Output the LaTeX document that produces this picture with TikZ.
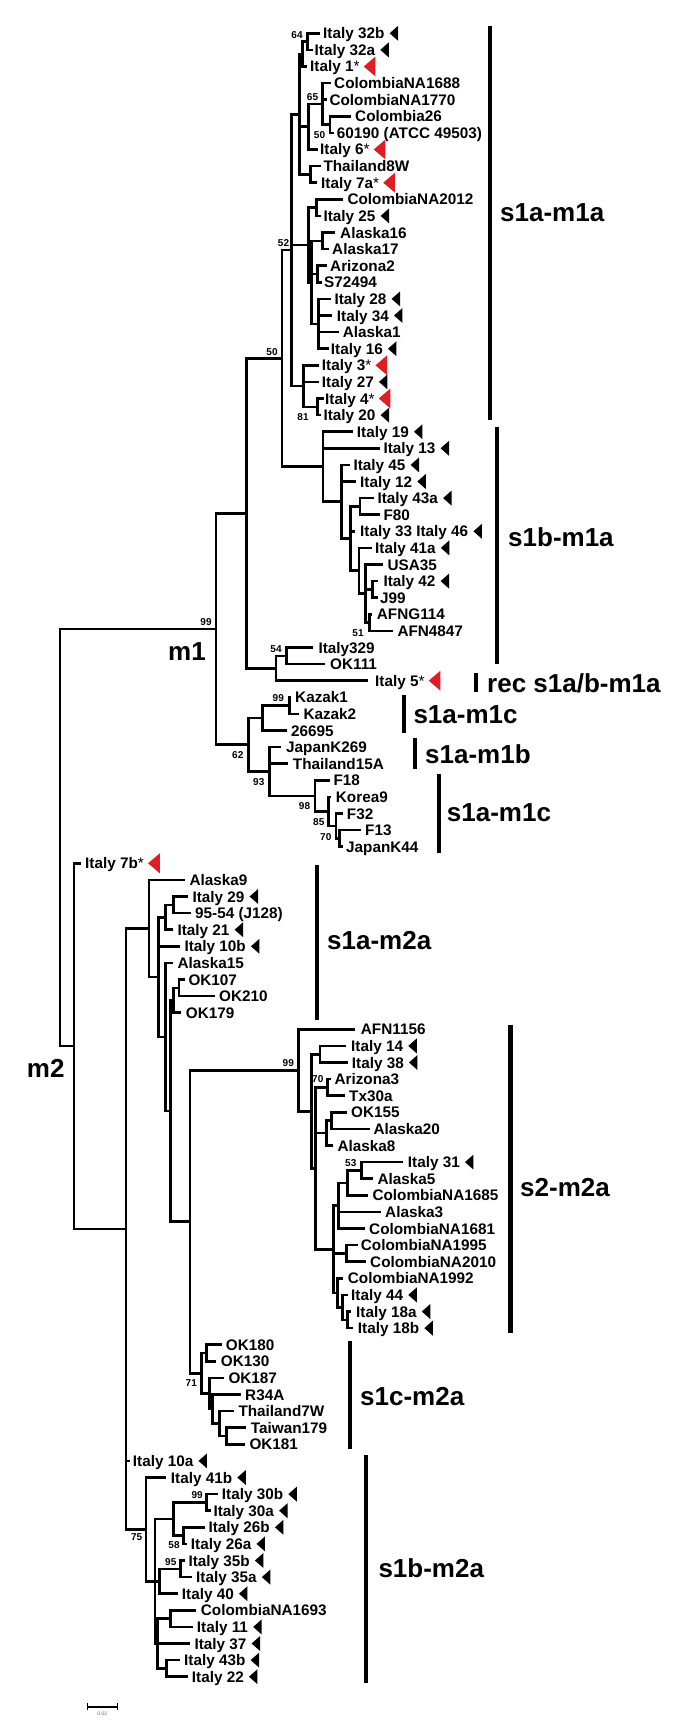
\documentclass[tikz,border=0pt]{standalone}
\usepackage{fontspec}
\setmainfont{Liberation Sans}
\usetikzlibrary{calc}
\definecolor{tred}{RGB}{222,30,36}
\tikzset{
  br/.style={line width=2.6pt, line cap=rect, line join=miter},
  lab/.style={anchor=base west, inner sep=0pt, font=\bfseries\fontsize{15.3}{16}\selectfont},
  bs/.style={inner sep=0pt, font=\bfseries\fontsize{10}{10}\selectfont},
  cl/.style={anchor=base west, inner sep=0pt, font=\bfseries\fontsize{26}{26}\selectfont},
  cbar/.style={line width=4.3pt},
}
\newcommand\tleaf[5]{%
  \coordinate (#1) at (#2,{33.3+16.6*#3});
  \node[lab] (#1t) at (#4,{38.8+16.6*#3}) {#5};}
\newcommand\tblk[1]{\fill ($(#1t.base east)+(5,-5.5)$) -- ++(8.5,-7.5) -- ++(0,15) -- cycle;}
\newcommand\tredtri[1]{\fill[tred] ($(#1t.base east)+(4,-5.5)$) -- ++(11.7,-10) -- ++(0,20) -- cycle;}
\newcommand\tnode[4]{\path let \p1=(#3), \p2=(#4) in coordinate (#1) at (#2pt,{0.5*(\y1+\y2)});}
\newcommand\tedges[2]{\foreach \ch in {#2}{\draw[br] (#1) |- (\ch);}}
\newcommand\tast{{\mdseries *}}
\begin{document}
\begin{tikzpicture}[x=1pt,y=-1pt]
\useasboundingbox (0,0) rectangle (679,1731);
\fill[white] (0,0) rectangle (679,1731);
% ---------------- leaves ----------------
\tleaf{i32b}{318.7}{0}{323}{Italy 32b}\tblk{i32b}
\tleaf{i32a}{311.5}{1}{314.5}{Italy 32a}\tblk{i32a}
\tleaf{i1}{305.5}{2}{310}{Italy 1\tast}\tredtri{i1}
\tleaf{na1688}{329.3}{3}{334}{ColombiaNA1688}
\tleaf{na1770}{326}{4}{329.3}{ColombiaNA1770}
\tleaf{col26}{350}{5}{355}{Colombia26}
\tleaf{c60190}{333}{6}{336.7}{60190 (ATCC 49503)}
\tleaf{i6}{316.7}{7}{320}{Italy 6\tast}\tredtri{i6}
\tleaf{th8w}{320}{8}{323.3}{Thailand8W}
\tleaf{i7a}{316}{9}{321}{Italy 7a\tast}\tredtri{i7a}
\tleaf{na2012}{341.7}{10}{347.3}{ColombiaNA2012}
\tleaf{i25}{320}{11}{323.3}{Italy 25}\tblk{i25}
\tleaf{ak16}{334}{12}{340}{Alaska16}
\tleaf{ak17}{327.5}{13}{332}{Alaska17}
\tleaf{az2}{326}{14}{330}{Arizona2}
\tleaf{s72494}{320.5}{15}{324}{S72494}
\tleaf{i28}{329.3}{16}{334.3}{Italy 28}\tblk{i28}
\tleaf{i34}{331}{17}{336.7}{Italy 34}\tblk{i34}
\tleaf{ak1}{337.7}{18}{342.7}{Alaska1}
\tleaf{i16}{327.3}{19}{330.7}{Italy 16}\tblk{i16}
\tleaf{i3}{317.3}{20}{321.7}{Italy 3\tast}\tredtri{i3}
\tleaf{i27}{317.3}{21}{321.7}{Italy 27}\tblk{i27}
\tleaf{i4}{322.7}{22}{325}{Italy 4\tast}\tredtri{i4}
\tleaf{i20}{320}{23}{323.3}{Italy 20}\tblk{i20}
\tleaf{i19}{351.7}{24}{356.7}{Italy 19}\tblk{i19}
\tleaf{i13}{378.3}{25}{383.3}{Italy 13}\tblk{i13}
\tleaf{i45}{348.3}{26}{353.3}{Italy 45}\tblk{i45}
\tleaf{i12}{355}{27}{360}{Italy 12}\tblk{i12}
\tleaf{i43a}{372.7}{28}{377.3}{Italy 43a}\tblk{i43a}
\tleaf{f80}{378.3}{29}{383.3}{F80}
\tleaf{i3346}{354}{30}{360}{Italy 33 Italy 46}\tblk{i3346}
\tleaf{i41a}{371}{31}{375}{Italy 41a}\tblk{i41a}
\tleaf{usa35}{381.7}{32}{387.3}{USA35}
\tleaf{i42}{376.7}{33}{383.3}{Italy 42}\tblk{i42}
\tleaf{j99}{376.7}{34}{380}{J99}
\tleaf{afng114}{371}{35}{376.7}{AFNG114}
\tleaf{afn4847}{391.7}{36}{397.3}{AFN4847}
\tleaf{it329}{311.7}{37}{318.3}{Italy329}
\tleaf{ok111}{323.3}{38}{330}{OK111}
\tleaf{i5}{366.7}{39}{375}{Italy 5\tast}\tredtri{i5}
\tleaf{kazak1}{290}{40}{295}{Kazak1}
\tleaf{kazak2}{297.3}{41}{303.3}{Kazak2}
\tleaf{k26695}{286}{42}{291}{26695}
\tleaf{jk269}{280}{43}{286}{JapanK269}
\tleaf{th15a}{286.7}{44}{292.7}{Thailand15A}
\tleaf{f18}{328.3}{45}{333.3}{F18}
\tleaf{korea9}{330}{46}{335.7}{Korea9}
\tleaf{f32}{341.7}{47}{346.7}{F32}
\tleaf{f13}{360}{48}{365}{F13}
\tleaf{jk44}{341.7}{49}{346}{JapanK44}
\tleaf{i7b}{80}{50}{85}{Italy 7b\tast}\tredtri{i7b}
\tleaf{ak9}{184}{51}{189.3}{Alaska9}
\tleaf{i29}{186.7}{52}{192.3}{Italy 29}\tblk{i29}
\tleaf{j128}{189.3}{53}{195}{95-54 (J128)}
\tleaf{i21}{171.7}{54}{177.3}{Italy 21}\tblk{i21}
\tleaf{i10b}{178.3}{55}{184.3}{Italy 10b}\tblk{i10b}
\tleaf{ak15}{171.7}{56}{177.3}{Alaska15}
\tleaf{ok107}{183.3}{57}{188.3}{OK107}
\tleaf{ok210}{213.3}{58}{219}{OK210}
\tleaf{ok179}{180}{59}{185.7}{OK179}
\tleaf{afn1156}{353.3}{60}{360.7}{AFN1156}
\tleaf{i14}{345}{61}{351}{Italy 14}\tblk{i14}
\tleaf{i38}{346.7}{62}{351.7}{Italy 38}\tblk{i38}
\tleaf{az3}{329.3}{63}{334.3}{Arizona3}
\tleaf{tx30a}{343.3}{64}{349}{Tx30a}
\tleaf{ok155}{346}{65}{351}{OK155}
\tleaf{ak20}{368.3}{66}{373.3}{Alaska20}
\tleaf{ak8}{331.7}{67}{337.3}{Alaska8}
\tleaf{i31}{401.7}{68}{407.7}{Italy 31}\tblk{i31}
\tleaf{ak5}{371.7}{69}{377.3}{Alaska5}
\tleaf{na1685}{366.7}{70}{372.3}{ColombiaNA1685}
\tleaf{ak3}{380}{71}{385}{Alaska3}
\tleaf{na1681}{363.3}{72}{369}{ColombiaNA1681}
\tleaf{na1995}{357}{73}{360.7}{ColombiaNA1995}
\tleaf{na2010}{365}{74}{370}{ColombiaNA2010}
\tleaf{na1992}{341.7}{75}{347.7}{ColombiaNA1992}
\tleaf{i44}{346.7}{76}{351}{Italy 44}\tblk{i44}
\tleaf{i18a}{350}{77}{356}{Italy 18a}\tblk{i18a}
\tleaf{i18b}{351.7}{78}{357.7}{Italy 18b}\tblk{i18b}
\tleaf{ok180}{220.7}{79}{225.7}{OK180}
\tleaf{ok130}{215}{80}{220.7}{OK130}
\tleaf{ok187}{222.7}{81}{228.3}{OK187}
\tleaf{r34a}{239.3}{82}{245}{R34A}
\tleaf{th7w}{232.7}{83}{238.3}{Thailand7W}
\tleaf{tw179}{245}{84}{250.7}{Taiwan179}
\tleaf{ok181}{243.3}{85}{249.3}{OK181}
\tleaf{i10a}{128.3}{86}{132.7}{Italy 10a}\tblk{i10a}
\tleaf{i41b}{165}{87}{170.7}{Italy 41b}\tblk{i41b}
\tleaf{i30b}{216.7}{88}{221.7}{Italy 30b}\tblk{i30b}
\tleaf{i30a}{209.3}{89}{213.3}{Italy 30a}\tblk{i30a}
\tleaf{i26b}{203.3}{90}{208.3}{Italy 26b}\tblk{i26b}
\tleaf{i26a}{186}{91}{190.7}{Italy 26a}\tblk{i26a}
\tleaf{i35b}{183.3}{92}{188.3}{Italy 35b}\tblk{i35b}
\tleaf{i35a}{190.7}{93}{196}{Italy 35a}\tblk{i35a}
\tleaf{i40}{176.7}{94}{181.7}{Italy 40}\tblk{i40}
\tleaf{na1693}{195}{95}{200.7}{ColombiaNA1693}
\tleaf{i11}{191.7}{96}{196.7}{Italy 11}\tblk{i11}
\tleaf{i37}{188.3}{97}{194.3}{Italy 37}\tblk{i37}
\tleaf{i43b}{178.3}{98}{184}{Italy 43b}\tblk{i43b}
\tleaf{i22}{186.7}{99}{191.7}{Italy 22}\tblk{i22}
% ---------------- internal nodes (bottom-up) ----------------
\tnode{n64}{307.7}{i32b}{i32a}
\tnode{nB}{302.3}{n64}{i1}
\tnode{nD}{330}{col26}{c60190}
\tnode{nE}{322.7}{na1688}{nD}
\tnode{nF}{308.3}{nE}{i6}
\tnode{nC}{310.7}{th8w}{i7a}
\tnode{nG}{299.3}{nB}{nC}
\tnode{nL}{316.7}{na2012}{i25}
\tnode{nI}{322.3}{ak16}{ak17}
\tnode{nJ}{317.3}{az2}{s72494}
\tnode{nK}{318.3}{i28}{i16}
\tnode{nN}{311.7}{nI}{nK}
\tnode{nM}{308.3}{nL}{nN}
\tnode{nO}{317.3}{i4}{i20}
\tnode{nP}{303.3}{i3}{nO}
\tnode{nH}{291.7}{nG}{nP}
\tnode{nY}{360}{i43a}{f80}
\tnode{nAA}{372.7}{i42}{j99}
\tnode{nBB}{369.3}{afng114}{afn4847}
\tnode{nCC}{365.7}{usa35}{nBB}
\tnode{nZ}{359}{i41a}{nCC}
\tnode{nX}{350.5}{nY}{nZ}
\tnode{nW}{341.7}{i45}{nX}
\tnode{nV}{323}{i19}{nW}
\tnode{nQ}{282}{nH}{nV}
\tnode{nR}{286.7}{it329}{ok111}
\tnode{nS}{276}{nR}{i5}
\tnode{nU}{246.7}{nQ}{nS}
\tnode{nKZ}{289.3}{kazak1}{kazak2}
\tnode{nK2}{262.7}{nKZ}{k26695}
\tnode{n70}{339.3}{f13}{jk44}
\tnode{nF32}{336}{f32}{n70}
\tnode{n85}{328.3}{korea9}{nF32}
\tnode{n98}{315}{f18}{n85}
\tnode{n93}{269.3}{jk269}{n98}
\tnode{nLow}{248.3}{nK2}{n93}
\tnode{nM1}{216}{nU}{nLow}
\tnode{n29}{173.3}{i29}{j128}
\tnode{n21}{165.7}{n29}{i21}
\tnode{n107}{179}{ok107}{ok210}
\tnode{n179}{173.3}{n107}{ok179}
\tnode{n14}{320}{i14}{i38}
\tnode{nAZ}{327.3}{az3}{tx30a}
\tnode{nOK}{331.7}{ok155}{ak20}
\tnode{nAK8}{326.7}{nOK}{ak8}
\tnode{n31}{361.7}{i31}{ak5}
\tnode{n53}{347.3}{n31}{na1685}
\tnode{nJ2}{338.3}{n53}{na1681}
\tnode{n1995}{346.7}{na1995}{na2010}
\tnode{n18}{347.3}{i18a}{i18b}
\tnode{n44}{342.7}{i44}{n18}
\tnode{n1992}{337.3}{na1992}{n44}
\tnode{nK3}{333.3}{nJ2}{n1992}
\tnode{nH2}{315.3}{nAZ}{nK3}
\tnode{nG2}{311.7}{n14}{nH2}
\tnode{nS2}{298.3}{afn1156}{nG2}
\tnode{n180}{206.7}{ok180}{ok130}
\tnode{ntw}{226.7}{tw179}{ok181}
\tnode{nth}{219.3}{th7w}{ntw}
\tnode{nr34}{212.7}{r34a}{nth}
\tnode{n187}{209.3}{ok187}{nr34}
\tnode{n71}{201.7}{n180}{n187}
\tnode{nF2}{190}{nS2}{n71}
\tnode{nE2}{170.7}{n179}{nF2}
\tnode{nC2}{165.7}{ak15}{nE2}
\tnode{nB2}{158.3}{n21}{nC2}
\tnode{nA2}{149}{ak9}{nB2}
\tnode{n30}{206.7}{i30b}{i30a}
\tnode{n26}{183.3}{i26b}{i26a}
\tnode{n3026}{173.3}{n30}{n26}
\tnode{n35}{180.7}{i35b}{i35a}
\tnode{n40}{159.3}{n35}{i40}
\tnode{n1693}{170.7}{na1693}{i11}
\tnode{n43b}{166.7}{i43b}{i22}
\tnode{nL2}{157.3}{n1693}{n43b}
\tnode{nN2}{155}{n3026}{nL2}
\tnode{n75}{146}{i41b}{nN2}
\tnode{nM2b}{126}{nA2}{n75}
\tnode{nm2}{74}{i7b}{nM2b}
\tnode{root}{60}{nM1}{nm2}
% ---------------- branches ----------------
\tedges{n64}{i32b,i32a}
\tedges{nB}{n64,i1}
\tedges{nD}{col26,c60190}
\tedges{nE}{na1688,na1770,nD}
\tedges{nF}{nE,i6}
\tedges{nC}{th8w,i7a}
\tedges{nG}{nB,nF,nC}
\tedges{nL}{na2012,i25}
\tedges{nI}{ak16,ak17}
\tedges{nJ}{az2,s72494}
\tedges{nK}{i28,i34,ak1,i16}
\tedges{nN}{nI,nJ,nK}
\tedges{nM}{nL,nN}
\tedges{nO}{i4,i20}
\tedges{nP}{i3,i27,nO}
\tedges{nH}{nG,nM,nP}
\tedges{nY}{i43a,f80}
\tedges{nAA}{i42,j99}
\tedges{nBB}{afng114,afn4847}
\tedges{nCC}{usa35,nAA,nBB}
\tedges{nZ}{i41a,nCC}
\tedges{nX}{nY,i3346,nZ}
\tedges{nW}{i45,i12,nX}
\tedges{nV}{i19,i13,nW}
\tedges{nQ}{nH,nV}
\tedges{nR}{it329,ok111}
\tedges{nS}{nR,i5}
\tedges{nU}{nQ,nS}
\tedges{nKZ}{kazak1,kazak2}
\tedges{nK2}{nKZ,k26695}
\tedges{n70}{f13,jk44}
\tedges{nF32}{f32,n70}
\tedges{n85}{korea9,nF32}
\tedges{n98}{f18,n85}
\tedges{n93}{jk269,th15a,n98}
\tedges{nLow}{nK2,n93}
\tedges{nM1}{nU,nLow}
\tedges{n29}{i29,j128}
\tedges{n21}{n29,i21}
\tedges{n107}{ok107,ok210}
\tedges{n179}{n107,ok179}
\tedges{n14}{i14,i38}
\tedges{nAZ}{az3,tx30a}
\tedges{nOK}{ok155,ak20}
\tedges{nAK8}{nOK,ak8}
\tedges{n31}{i31,ak5}
\tedges{n53}{n31,na1685}
\tedges{nJ2}{n53,ak3,na1681}
\tedges{n1995}{na1995,na2010}
\tedges{n18}{i18a,i18b}
\tedges{n44}{i44,n18}
\tedges{n1992}{na1992,n44}
\tedges{nK3}{nJ2,n1995,n1992}
\tedges{nH2}{nAZ,nAK8,nK3}
\tedges{nG2}{n14,nH2}
\tedges{nS2}{afn1156,nG2}
\tedges{n180}{ok180,ok130}
\tedges{ntw}{tw179,ok181}
\tedges{nth}{th7w,ntw}
\tedges{nr34}{r34a,nth}
\tedges{n187}{ok187,nr34}
\tedges{n71}{n180,n187}
\tedges{nF2}{nS2,n71}
\tedges{nE2}{n179,nF2}
\tedges{nC2}{ak15,nE2}
\tedges{nB2}{n21,i10b,nC2}
\tedges{nA2}{ak9,nB2}
\tedges{n30}{i30b,i30a}
\tedges{n26}{i26b,i26a}
\tedges{n3026}{n30,n26}
\tedges{n35}{i35b,i35a}
\tedges{n40}{n35,i40}
\tedges{n1693}{na1693,i11}
\tedges{n43b}{i43b,i22}
\tedges{nL2}{n1693,i37,n43b}
\tedges{nN2}{n3026,n40,nL2}
\tedges{n75}{i41b,nN2}
\tedges{nM2b}{nA2,i10a,n75}
\tedges{nm2}{i7b,nM2b}
\tedges{root}{nM1,nm2}
% ---------------- bootstrap values ----------------
\node[bs] (b01) at (297,35) {64};
\node[bs] (b02) at (312.5,97) {65};
\node[bs] (b03) at (319.5,135) {50};
\node[bs] (b04) at (283.5,243) {52};
\node[bs] (b05) at (272,352) {50};
\node[bs] (b06) at (303,417) {81};
\node[bs] (b07) at (358,632.7) {51};
\node[bs] (b08) at (206,621.7) {99};
\node[bs] (b09) at (276,649) {54};
\node[bs] (b10) at (278.3,698.3) {99};
\node[bs] (b11) at (237.8,755) {62};
\node[bs] (b12) at (258.8,781.7) {93};
\node[bs] (b13) at (304.5,805.7) {98};
\node[bs] (b14) at (318.8,821.7) {85};
\node[bs] (b15) at (325.8,836.7) {70};
\node[bs] (b16) at (288.3,1062.7) {99};
\node[bs] (b17) at (317.8,1079.3) {70};
\node[bs] (b18) at (350.8,1162.7) {53};
\node[bs] (b19) at (191.3,1382.7) {71};
\node[bs] (b20) at (197.2,1495) {99};
\node[bs] (b21) at (174,1545) {58};
\node[bs] (b22) at (170.8,1561.7) {95};
\node[bs] (b23) at (136.7,1536.7) {75};
% ---------------- m1 / m2 ----------------
\node[cl] (m1lab) at (168,660.3) {m1};
\node[cl] (m2lab) at (26.7,1077.3) {m2};
% ---------------- clade bars and labels ----------------
\draw[cbar] (490,26) coordinate (c1a) -- (490,420) coordinate (c1b);
\node[cl] (c1l) at (500,221.3) {s1a-m1a};
\draw[cbar] (497,427) coordinate (c2a) -- (497,664) coordinate (c2b);
\node[cl] (c2l) at (508,546.3) {s1b-m1a};
\draw[cbar] (476,673) coordinate (c3a) -- (476,692) coordinate (c3b);
\node[cl] (c3l) at (487,692.3) {rec s1a/b-m1a};
\draw[cbar] (404,695) coordinate (c4a) -- (404,733) coordinate (c4b);
\node[cl] (c4l) at (413.3,723.3) {s1a-m1c};
\draw[cbar] (415,738) coordinate (c5a) -- (415,769) coordinate (c5b);
\node[cl] (c5l) at (425,763.3) {s1a-m1b};
\draw[cbar] (438.7,774) coordinate (c6a) -- (438.7,852.7) coordinate (c6b);
\node[cl] (c6l) at (446.7,821.3) {s1a-m1c};
\draw[cbar] (317,865) coordinate (c7a) -- (317,1020) coordinate (c7b);
\node[cl] (c7l) at (327,949.3) {s1a-m2a};
\draw[cbar] (510.5,1025) coordinate (c8a) -- (510.5,1333) coordinate (c8b);
\node[cl] (c8l) at (520,1196.3) {s2-m2a};
\draw[cbar] (350.3,1340.7) coordinate (c9a) -- (350.3,1449.3) coordinate (c9b);
\node[cl] (c9l) at (360,1405.3) {s1c-m2a};
\draw[cbar] (366.3,1455) coordinate (c10a) -- (366.3,1682.7) coordinate (c10b);
\node[cl] (c10l) at (378.3,1577.3) {s1b-m2a};
% ---------------- scale bar ----------------
\coordinate (sb1) at (87.3,1706.7);
\coordinate (sb2) at (117.3,1706.7);
\draw[line width=1.8pt] (sb1) -- (sb2);
\draw[line width=1.4pt] ($(sb1)+(0,-3.5)$) -- ($(sb1)+(0,3.5)$);
\draw[line width=1.4pt] ($(sb2)+(0,-3.5)$) -- ($(sb2)+(0,3.5)$);
\node[inner sep=0pt, font=\fontsize{5}{5}\selectfont, text=black!60] (sbl) at (102.3,1713.5) {0.02};
\end{tikzpicture}
\end{document}
